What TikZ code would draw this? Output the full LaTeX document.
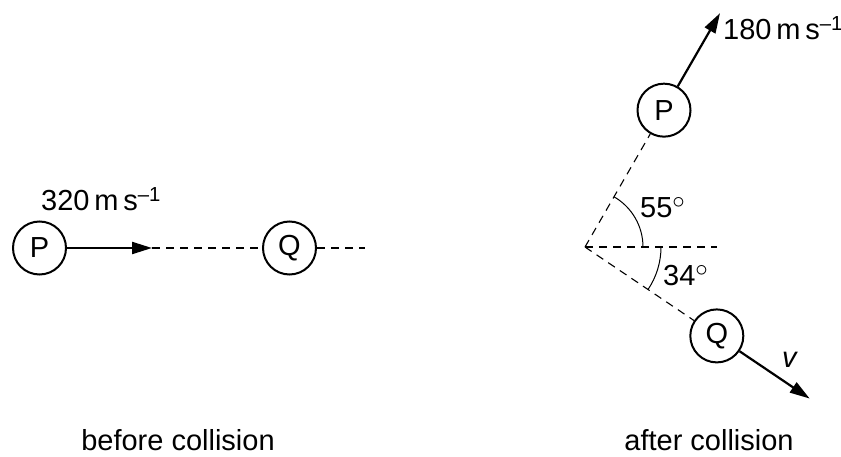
\documentclass[tikz,border=0pt]{standalone}
\usepackage{fontspec}
\setmainfont{Liberation Sans}
\usepackage{tikz}
\usetikzlibrary{arrows.meta,positioning,calc}
\newcommand{\degsign}{\raisebox{0.3em}{$\circ$}}

\begin{document}
\begin{tikzpicture}[x=1pt,y=1pt,>={Triangle[length=20pt,width=12pt]},
  font=\fontsize{29}{34}\selectfont,
  ball/.style={draw,circle,line width=2pt,minimum size=53pt,inner sep=0pt},
  vel/.style={->,line width=2.2pt},
  guide/.style={line width=1.1pt,dash pattern=on 8pt off 6pt}]
  \useasboundingbox (0,0) rectangle (841,456);
  % before collision
  \node[ball](P1)at(39.5,208){P};\node[ball](Q1)at(289.5,208){Q};
  \coordinate(a1)at(152,208);\coordinate(e1)at(365,208);
  \draw[vel] (P1)--(a1);
  \draw[guide] (a1)--(Q1);\draw[guide] (Q1)--(e1);
  \node[anchor=base west,inner sep=0pt](u1)at(41,245){320\,m\,s\textsuperscript{–1}};
  \node[anchor=base,inner sep=0pt](lb)at(178,6){before collision};
  % after collision
  \coordinate(O)at(585,209);\coordinate(h)at(717,209);
  \node[ball](P2)at($(O)+(60:158)$){P};\node[ball](Q2)at($(O)+(-34:159)$){Q};
  \coordinate(a2)at($(P2)+(60:112)$);\coordinate(b2)at($(Q2)+(-34:112)$);
  \draw[guide] (O)--(h);\draw[guide] (O)--(P2);\draw[guide] (O)--(Q2);
  \draw[vel] (P2)--(a2);\draw[vel] (Q2)--(b2);
  \draw[line width=1pt] ($(O)+(58,0)$) arc[start angle=0,end angle=60,radius=58];
  \draw[line width=1pt] ($(O)+(76,0)$) arc[start angle=0,end angle=-34,radius=76];
  \node[anchor=base west,inner sep=0pt](u2)at(723,416){180\,m\,s\textsuperscript{–1}};
  \node[anchor=base west,inner sep=0pt](t1)at(640,239){55\degsign};
  \node[anchor=base west,inner sep=0pt](t2)at(663,171){34\degsign};
  \node[anchor=base west,inner sep=0pt](v)at(782,89){\textit{v}};
  \node[anchor=base,inner sep=0pt](la)at(709,6){after collision};
\end{tikzpicture}
\end{document}
